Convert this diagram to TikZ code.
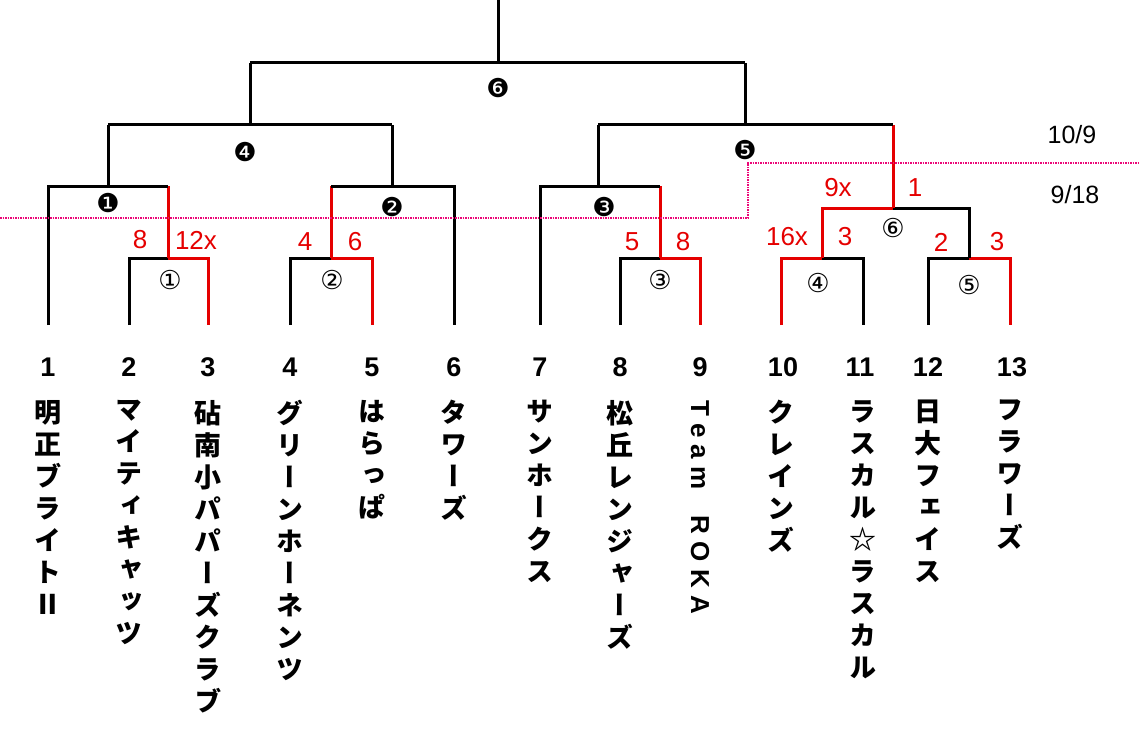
\documentclass[tikz,border=0pt]{standalone}
\usepackage{fontspec}
\newfontfamily\tate[RawFeature=+vert]{Noto Sans CJK JP}
\newfontfamily\numf{Liberation Sans}
\newfontfamily\sym{DejaVu Sans}
\begin{document}
\begin{tikzpicture}[x=1pt,y=-1pt,
 bk/.style={line width=3pt,black},
 rd/.style={line width=3pt,red!90!black},
 num/.style={font=\numf\bfseries\fontsize{27}{27}\selectfont},
 sc/.style={font=\numf\fontsize{26}{26}\selectfont,text=red!90!black},
 cir/.style={font=\sym\fontsize{26}{26}\selectfont},
 nm/.style={anchor=north,align=center,inner sep=0pt,font=\tate\bfseries\fontsize{27}{32}\selectfont}]
\useasboundingbox (0,0) rectangle (1140,733);
\draw[bk] (129,325)--(129,258)--(168,258);
\draw[rd] (168,258)--(208,258)--(208,325);
\draw[rd] (168,258)--(168,186);
\draw[bk] (48,325)--(48,186)--(168,186);
\draw[bk] (108,186)--(108,125);
\draw[bk] (290,325)--(290,258)--(331,258);
\draw[rd] (331,258)--(372,258)--(372,325);
\draw[rd] (331,258)--(331,186);
\draw[bk] (331,186)--(454,186)--(454,325);
\draw[bk] (392,186)--(392,125);
\draw[bk] (108,125)--(392,125);
\draw[bk] (250,125)--(250,63);
\draw[bk] (620,325)--(620,258)--(660,258);
\draw[rd] (660,258)--(700,258)--(700,325);
\draw[rd] (660,258)--(660,186);
\draw[bk] (540,325)--(540,186)--(660,186);
\draw[bk] (598,186)--(598,125);
\draw[rd] (781,325)--(781,258)--(822,258);
\draw[bk] (822,258)--(863,258)--(863,325);
\draw[rd] (822,258)--(822,208)--(893,208);
\draw[bk] (928,325)--(928,258)--(969,258);
\draw[rd] (969,258)--(1010,258)--(1010,325);
\draw[bk] (893,208)--(969,208)--(969,258);
\draw[rd] (893,208)--(893,125);
\draw[bk] (598,125)--(893,125);
\draw[bk] (745,125)--(745,63);
\draw[bk] (250,63)--(745,63);
\draw[bk] (498,63)--(498,0);
\draw[densely dotted,line width=1.5pt,magenta!80!red] (0,218)--(748,218)--(748,163)--(1140,163);
\node[font=\numf\fontsize{25}{25}\selectfont] (d1) at (1072,135) {10/9};
\node[font=\numf\fontsize{25}{25}\selectfont] (d2) at (1075,195) {9/18};
\node[cir] at (108,203) {❶};
\node[cir] at (392,207) {❷};
\node[cir] at (604,207) {❸};
\node[cir] at (245,152) {❹};
\node[cir] at (745,150) {❺};
\node[cir] at (498,88) {❻};
\node[cir] at (170,280) {①};
\node[cir] at (332,280) {②};
\node[cir] at (660,280) {③};
\node[cir] at (818,283) {④};
\node[cir] at (969,285) {⑤};
\node[cir] at (893,228) {⑥};
\node[sc] at (140,240) {8};
\node[sc] at (196,240) {12x};
\node[sc] at (305,242) {4};
\node[sc] at (355,242) {6};
\node[sc] at (632,242) {5};
\node[sc] at (683,242) {8};
\node[sc] at (787,237) {16x};
\node[sc] at (845,237) {3};
\node[sc] at (838,188) {9x};
\node[sc] at (915,188) {1};
\node[sc] at (941,242) {2};
\node[sc] at (997,242) {3};
\foreach \x/\n in {48/1,129/2,208/3,290/4,372/5,454/6,540/7,620/8,700/9,783/10,860/11,928/12,1012/13}
 \node[num] (n\n) at (\x,367) {\n};
\node[nm] (t1) at (48,400) {明\\正\\ブ\\ラ\\イ\\ト\\Ⅱ};
\node[nm] (t2) at (129,400) {マ\\イ\\テ\\ィ\\キ\\ャ\\ッ\\ツ};
\node[nm] (t3) at (208,400) {砧\\南\\小\\パ\\パ\\ー\\ズ\\ク\\ラ\\ブ};
\node[nm] (t4) at (290,400) {グ\\リ\\ー\\ン\\ホ\\ー\\ネ\\ン\\ツ};
\node[nm] (t5) at (372,400) {は\\ら\\っ\\ぱ};
\node[nm] (t6) at (454,400) {タ\\ワ\\ー\\ズ};
\node[nm] (t7) at (540,400) {サ\\ン\\ホ\\ー\\ク\\ス};
\node[nm] (t8) at (620,400) {松\\丘\\レ\\ン\\ジ\\ャ\\ー\\ズ};
\node[anchor=west,rotate=-90,inner sep=0pt,font=\numf\bfseries\fontsize{26}{26}\selectfont] (t9) at (700,400) {T e a m\quad R O K A};
\node[nm] (t10) at (781,400) {ク\\レ\\イ\\ン\\ズ};
\node[nm] (t11) at (863,400) {ラ\\ス\\カ\\ル\\☆\\ラ\\ス\\カ\\ル};
\node[nm] (t12) at (928,400) {日\\大\\フ\\ェ\\イ\\ス};
\node[nm] (t13) at (1010,400) {フ\\ラ\\ワ\\ー\\ズ};
\end{tikzpicture}
\end{document}
